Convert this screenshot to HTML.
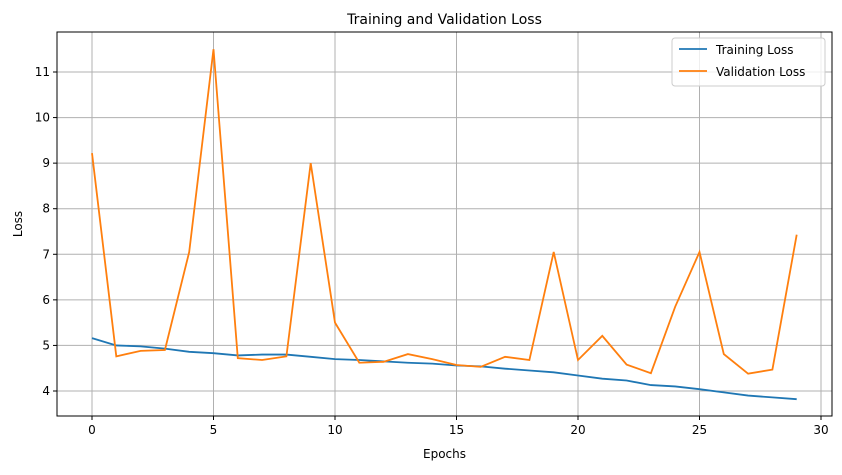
<!DOCTYPE html>
<html><head><meta charset="utf-8"><style>
body{margin:0;background:#fff;font-family:"Liberation Sans","DejaVu Sans",sans-serif;}
svg text{font-family:"DejaVu Sans","Liberation Sans",sans-serif;}
</style></head><body>
<svg id="chart" width="842" height="470"></svg>
<script>
const epochs=[...Array(30).keys()];
const trainLoss=[5.16,5.0,4.98,4.93,4.86,4.83,4.78,4.8,4.8,4.75,4.7,4.68,4.65,4.62,4.6,4.56,4.54,4.49,4.45,4.41,4.34,4.27,4.23,4.13,4.1,4.04,3.97,3.9,3.86,3.82];
const valLoss=[9.22,4.76,4.88,4.9,7.05,11.5,4.72,4.68,4.76,9.0,5.5,4.62,4.64,4.81,4.7,4.57,4.53,4.75,4.68,7.05,4.68,5.21,4.58,4.39,5.85,7.05,4.81,4.38,4.47,7.43];
const xTicks=[0,5,10,15,20,25,30];
const yTicks=[4,5,6,7,8,9,10,11];
const L=57,R=832,T=32,B=416;
const X=v=>92+(821-92)*v/30;
const Y=v=>391-(391-72)*(v-4)/7;
const svg=document.getElementById('chart');
const NS='http://www.w3.org/2000/svg';
function mk(t,a,p){const e=document.createElementNS(NS,t);for(const k in a)e.setAttribute(k,a[k]);(p||svg).appendChild(e);return e;}
xTicks.forEach(t=>{
const g=mk('line',{x1:X(t),x2:X(t),y1:T,y2:B,stroke:'#b0b0b0','stroke-width':1});


mk('line',{x1:X(t),x2:X(t),y1:B,y2:B+4,stroke:'#000'});
const tx=mk('text',{x:X(t),y:B+18,'text-anchor':'middle','font-size':12});tx.textContent=t;


});
yTicks.forEach(t=>{
const g=mk('line',{x1:L,x2:R,y1:Y(t),y2:Y(t),stroke:'#b0b0b0','stroke-width':1});


mk('line',{x1:L-4,x2:L,y1:Y(t),y2:Y(t),stroke:'#000'});
const tx=mk('text',{x:L-7,y:Y(t)+4,'text-anchor':'end','font-size':12});tx.textContent=t;


});
function line(data,color,name){
const p=mk('polyline',{points:data.map((v,i)=>X(epochs[i])+','+Y(v)).join(' '),fill:'none',stroke:color,'stroke-width':1.8});


}
line(trainLoss,'#1f77b4','training-loss-line');
line(valLoss,'#ff7f0e','validation-loss-line');
const fr=mk('rect',{x:L,y:T,width:R-L,height:B-T,fill:'none',stroke:'#000','stroke-width':1});


const ti=mk('text',{x:(L+R)/2,y:24,'text-anchor':'middle','font-size':14});ti.textContent='Training and Validation Loss';


const xl=mk('text',{x:(L+R)/2,y:458,'text-anchor':'middle','font-size':12});xl.textContent='Epochs';


const yl=mk('text',{x:0,y:0,'text-anchor':'middle','font-size':12,transform:'translate(22,224) rotate(-90)'});yl.textContent='Loss';


const lg=mk('g',{});


mk('rect',{x:672,y:38,width:153,height:48,rx:3,fill:'#fff','fill-opacity':0.8,stroke:'#ccc'},lg);
[['Training Loss','#1f77b4',54],['Validation Loss','#ff7f0e',76]].forEach(([n,c,y])=>{
mk('line',{x1:679,x2:707,y1:y-5,y2:y-5,stroke:c,'stroke-width':1.8},lg);
const t=mk('text',{x:716,y:y,'font-size':12},lg);t.textContent=n;


});
</script>
</body></html>
